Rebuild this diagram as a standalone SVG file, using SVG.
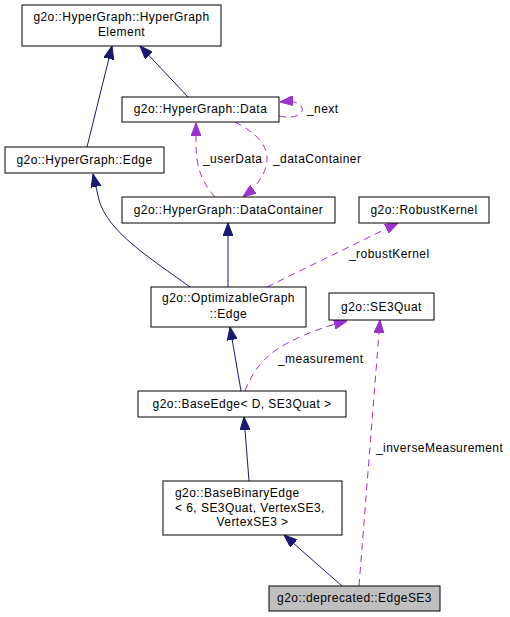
<svg xmlns="http://www.w3.org/2000/svg" width="510" height="617" viewBox="0 0 510 617">
<style>
.n rect{fill:#fff;stroke:#000;stroke-width:1}
.n.cur rect{fill:#bfbfbf}
text{font-family:"Liberation Sans",Arial,sans-serif;font-size:12px;letter-spacing:0.45px;fill:#000}
.c{text-anchor:middle}
.inh{fill:none;stroke:#191970;stroke-width:1;marker-end:url(#an)}
.use{fill:none;stroke:#9a32cd;stroke-width:1;stroke-dasharray:7,5;marker-end:url(#ap)}
</style>
<defs>
<marker id="an" markerUnits="userSpaceOnUse" markerWidth="13" markerHeight="10" refX="13" refY="5" orient="auto"><path d="M0,0 L13,5 L0,10 z" fill="#191970" stroke="#191970"/></marker>
<marker id="ap" markerUnits="userSpaceOnUse" markerWidth="13" markerHeight="10" refX="13" refY="5" orient="auto"><path d="M0,0 L13,5 L0,10 z" fill="#9a32cd" stroke="#9a32cd"/></marker>
</defs>
<rect width="510" height="617" fill="#fff"/>
<g id="connectors">
<path class="inh" d="M87,147 L112,46"/>
<path class="inh" d="M188,97 L140,46"/>
<path class="inh" d="M190,287 C150,258 108,232 99,200 L93,174"/>
<path class="inh" d="M228,287 L228,223"/>
<path class="inh" d="M241,391 L230,327"/>
<path class="inh" d="M249,481 L244,417"/>
<path class="inh" d="M342,586 L284,535"/>
<path class="use" d="M279,116 C296,120 306,113 301,106 C297,101 290,101 280,102"/>
<path class="use" d="M215,197 C204,185 196,170 196,145 L196,123"/>
<path class="use" d="M235,122 C255,132 268,145 267,160 C266,175 256,187 243,197"/>
<path class="use" d="M267,287 L398,223"/>
<path class="use" d="M245,391 C255,365 270,350 300,337 C320,328 335,324 347,321"/>
<path class="use" d="M359,586 L380,320"/>
<text x="307" y="113">_next</text>
<text x="203" y="163">_userData</text>
<text x="273" y="163">_dataContainer</text>
<text x="349" y="258">_robustKernel</text>
<text x="278" y="363">_measurement</text>
<text x="376" y="452">_inverseMeasurement</text>
</g>
<g id="n_hgelement" class="n"><rect x="22" y="5" width="199" height="41"/><text class="c" x="121.5" y="21">g2o::HyperGraph::HyperGraph</text><text class="c" x="121.5" y="36">Element</text></g>
<g id="n_data" class="n"><rect x="122" y="97" width="157" height="25"/><text class="c" x="200.5" y="113">g2o::HyperGraph::Data</text></g>
<g id="n_hgedge" class="n"><rect x="5" y="147" width="159" height="26"/><text class="c" x="84.5" y="164">g2o::HyperGraph::Edge</text></g>
<g id="n_datacontainer" class="n"><rect x="122" y="197" width="213" height="26"/><text class="c" x="228.5" y="214">g2o::HyperGraph::DataContainer</text></g>
<g id="n_robustkernel" class="n"><rect x="359" y="197" width="130" height="26"/><text class="c" x="424" y="214">g2o::RobustKernel</text></g>
<g id="n_optedge" class="n"><rect x="151" y="287" width="155" height="40"/><text class="c" x="228.5" y="302">g2o::OptimizableGraph</text><text class="c" x="228.5" y="318">::Edge</text></g>
<g id="n_se3quat" class="n"><rect x="329" y="293" width="105" height="27"/><text class="c" x="381.5" y="311">g2o::SE3Quat</text></g>
<g id="n_baseedge" class="n"><rect x="138" y="391" width="208" height="26"/><text class="c" x="242" y="408">g2o::BaseEdge&lt; D, SE3Quat &gt;</text></g>
<g id="n_basebinaryedge" class="n"><rect x="163" y="481" width="179" height="54"/><text x="175" y="497">g2o::BaseBinaryEdge</text><text x="175" y="512">&lt; 6, SE3Quat, VertexSE3,</text><text class="c" x="252.5" y="526">VertexSE3 &gt;</text></g>
<g id="n_edgese3" class="n cur"><rect x="269" y="586" width="171" height="25"/><text class="c" x="354.5" y="602">g2o::deprecated::EdgeSE3</text></g>
</svg>
